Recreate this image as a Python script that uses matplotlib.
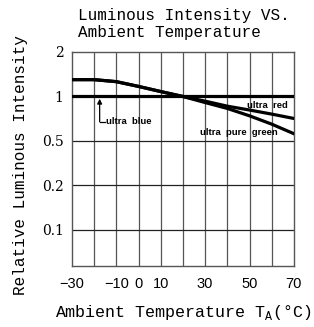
import numpy as np
import matplotlib
matplotlib.use("Agg")
import matplotlib.pyplot as plt

# --- Data --------------------------------------------------------------------

temps = [-30, -20, -10, 0, 10, 20, 30, 40, 50, 60, 70]
ultra_blue = [1.0] * len(temps)
ultra_red = [1.30, 1.30, 1.26, 1.17, 1.08, 1.0, 0.93, 0.86, 0.81, 0.76, 0.71]
ultra_pure_green = [1.30, 1.30, 1.26, 1.17, 1.08, 1.0, 0.91, 0.83, 0.74, 0.65, 0.56]

x_ticks = [-30, -10, 0, 10, 30, 50, 70]
y_levels = [0.1, 0.2, 0.5, 1, 2]
y_labels = ["0.1", "0.2", "0.5", "1", "2"]

# --- Style -------------------------------------------------------------------

MONO = "Liberation Mono"
GRID_COLOR = "#555555"
plt.rcParams["mathtext.fontset"] = "custom"
plt.rcParams["mathtext.rm"] = MONO

# the y axis puts each level one equal step apart
scale_vals = np.log([0.05] + y_levels)
scale_pos = np.arange(-1, len(y_levels))


def fwd(v):
    v = np.clip(np.asarray(v, dtype=float), 1e-6, None)
    return np.interp(np.log(v), scale_vals, scale_pos)


def inv(p):
    return np.exp(np.interp(p, scale_pos, scale_vals))


fig = plt.figure(figsize=(3.14, 3.27), dpi=100)
ax = fig.add_axes([0.229, 0.1865, 0.707, 0.6545])
ax.set_yscale("function", functions=(fwd, inv))

ax.set_xlim(-30, 70)
ax.set_ylim(inv(-0.81), 2)

ax.set_xticks(x_ticks)
ax.set_xticklabels([str(t).replace("-", "\u2212") for t in x_ticks],
                   fontsize=10.5, family="Liberation Sans")
ax.set_yticks(y_levels)
ax.set_yticklabels(y_labels, fontsize=10, family="DejaVu Serif")
ax.yaxis.set_minor_locator(matplotlib.ticker.NullLocator())
ax.tick_params(axis="y", length=0, pad=6)
ax.tick_params(axis="x", length=0, pad=8)

for t in range(-20, 70, 10):
    ax.axvline(t, color=GRID_COLOR, linewidth=0.9, zorder=1)
for lv in [0.1, 0.2, 0.5]:
    ax.axhline(lv, color="#222222", linewidth=0.9, zorder=1)
for spine in ax.spines.values():
    spine.set_color(GRID_COLOR)
    spine.set_linewidth(1.0)

ax.plot(temps, ultra_blue, color="black", linewidth=2.3, zorder=3)
ax.plot(temps, ultra_red, color="black", linewidth=2.3, zorder=3)
ax.plot(temps, ultra_pure_green, color="black", linewidth=2.3, zorder=3)

lab = dict(fontsize=6.8, fontweight="bold", family="Liberation Sans",
           color="black", zorder=4)
ax.text(49, 0.875, "ultra  red", ha="left", va="center", **lab)
ax.text(27.5, 0.575, "ultra  pure  green", ha="left", va="center", **lab)
ax.text(-14.5, 0.675, "ultra  blue", ha="left", va="center", **lab)
ax.annotate("", xy=(-17.5, 0.965), xytext=(-17.5, 0.675),
            arrowprops=dict(arrowstyle="-|>", color="black", lw=0.9,
                            mutation_scale=7, shrinkA=0, shrinkB=0))
ax.plot([-17.5, -15], [0.675, 0.675], color="black", linewidth=0.9, zorder=4)

ax.set_xlabel(r"Ambient Temperature T$_\mathrm{A}$(°C)", family=MONO,
              fontsize=12)
ax.xaxis.set_label_coords(0.5, -0.175)
ax.set_ylabel("Relative Luminous Intensity", family=MONO, fontsize=11.5)
ax.yaxis.set_label_coords(-0.198, 0.472)

fig.text(0.248, 0.953, "Luminous Intensity VS.", family=MONO, fontsize=11.5,
         ha="left", va="center")
fig.text(0.248, 0.900, "Ambient Temperature", family=MONO, fontsize=11.5,
         ha="left", va="center")

fig.savefig("out.png", dpi=100, facecolor="white")
plt.close(fig)
